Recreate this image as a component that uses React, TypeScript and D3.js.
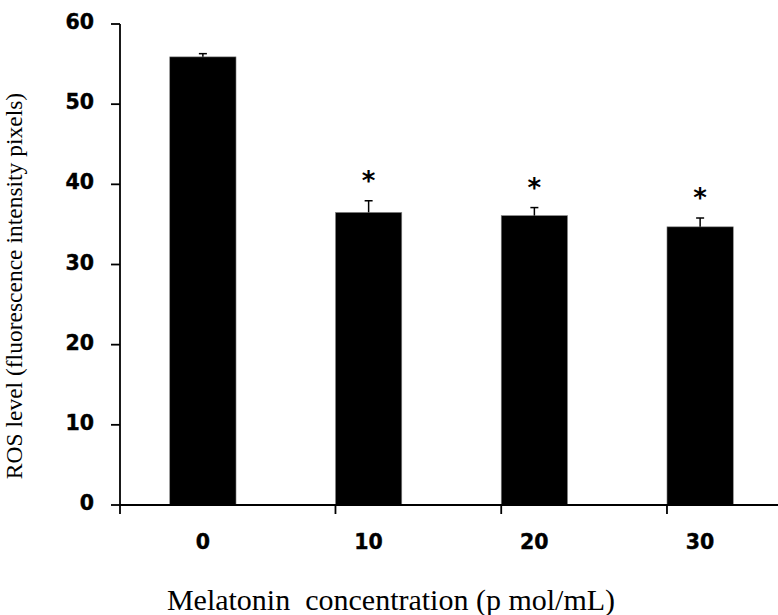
import { useEffect, useRef } from 'react'
import * as d3 from 'd3'

const categories = ['0', '10', '20', '30']
const means = [55.9, 36.5, 36.1, 34.7]
const errors = [0.4, 1.45, 1.0, 1.1]
const significant = [false, true, true, true]
const yTicks = [0, 10, 20, 30, 40, 50, 60]

const W = 778
const H = 615

export default function App() {
    const svgRef = useRef<SVGSVGElement>(null)

    useEffect(() => {
        if (!svgRef.current) return
        const svg = d3.select(svgRef.current)
        svg.selectAll('*').remove()

        const left = 120, right = 783, top = 24, bottom = 505
        const tickFont = 'DejaVu Sans, sans-serif'
        const serif = 'Liberation Serif, Times New Roman, serif'

        const x = d3.scaleBand().domain(categories).range([left, right])
            .paddingInner(0.6).paddingOuter(0.3)
        const y = d3.scaleLinear().domain([0, 60]).range([bottom, top])

        // Bars
        svg.append('g').selectAll('rect')
            .data(categories)
            .enter().append('rect')
            .attr('x', d => x(d)!)
            .attr('width', x.bandwidth())
            .attr('y', (d, i) => y(means[i]))
            .attr('height', (d, i) => y(0) - y(means[i]))
            .attr('fill', '#000')
            .attr('stroke', '#888')
            .attr('stroke-width', 0.6)

        // Error bars (upper only)
        const eb = svg.append('g').attr('stroke', '#000').attr('stroke-width', 1.5)
        categories.forEach((c, i) => {
            const cx = x(c)! + x.bandwidth() / 2
            eb.append('line').attr('x1', cx).attr('x2', cx)
                .attr('y1', y(means[i])).attr('y2', y(means[i] + errors[i]))
            eb.append('line').attr('x1', cx - 4).attr('x2', cx + 4)
                .attr('y1', y(means[i] + errors[i])).attr('y2', y(means[i] + errors[i]))
        })

        // Significance stars
        svg.append('g').selectAll('text')
            .data(categories.filter((c, i) => significant[i]))
            .enter().append('text')
            .attr('x', d => x(d)! + x.bandwidth() / 2)
            .attr('y', d => {
                const i = categories.indexOf(d)
                return y(means[i] + errors[i]) - 11
            })
            .attr('text-anchor', 'middle')
            .attr('font-family', tickFont)
            .attr('font-weight', 'bold')
            .attr('font-size', 26)
            .text('*')

        // Y axis
        const ax = svg.append('g').attr('stroke', '#000').attr('stroke-width', 1.8)
        ax.append('line').attr('x1', left).attr('x2', left).attr('y1', top).attr('y2', bottom)
        yTicks.forEach(t => {
            ax.append('line').attr('x1', left - 9).attr('x2', left).attr('y1', y(t)).attr('y2', y(t))
        })
        svg.append('g').selectAll('text')
            .data(yTicks)
            .enter().append('text')
            .attr('x', left - 26)
            .attr('y', d => y(d) + 5)
            .attr('text-anchor', 'end')
            .attr('font-family', tickFont)
            .attr('font-weight', 'bold')
            .attr('font-size', 20.5)
            .attr('stroke', '#000')
            .attr('stroke-width', 0.4)
            .text(d => d)

        // X axis with ticks at band boundaries
        ax.append('line').attr('x1', left).attr('x2', right).attr('y1', bottom).attr('y2', bottom)
        const bounds = [left, ...categories.map(c => x(c)! + x.step() * 0.3 + x.bandwidth() + x.step() * 0.3)]
        bounds.forEach(b => {
            ax.append('line').attr('x1', b).attr('x2', b).attr('y1', bottom).attr('y2', bottom + 9)
        })
        svg.append('g').selectAll('text')
            .data(categories)
            .enter().append('text')
            .attr('x', d => x(d)! + x.bandwidth() / 2)
            .attr('y', 548.5)
            .attr('text-anchor', 'middle')
            .attr('font-family', tickFont)
            .attr('font-weight', 'bold')
            .attr('font-size', 20.5)
            .attr('stroke', '#000')
            .attr('stroke-width', 0.4)
            .text(d => d)

        // Axis titles
        svg.append('text')
            .attr('x', 391)
            .attr('y', 610)
            .attr('text-anchor', 'middle')
            .attr('font-family', serif)
            .attr('font-size', 30)
            .style('white-space', 'pre')
            .text('Melatonin  concentration (p mol/mL)')

        svg.append('text')
            .attr('transform', 'translate(22,286) rotate(-90)')
            .attr('text-anchor', 'middle')
            .attr('font-family', serif)
            .attr('font-size', 23.5)
            .text('ROS level (fluorescence intensity pixels)')
    }, [])

    return (
        <div style={{ position: 'absolute', left: 0, top: 0 }}>
            <svg ref={svgRef} width={W} height={H} style={{ display: 'block', background: '#fff' }} />
        </div>
    )
}
